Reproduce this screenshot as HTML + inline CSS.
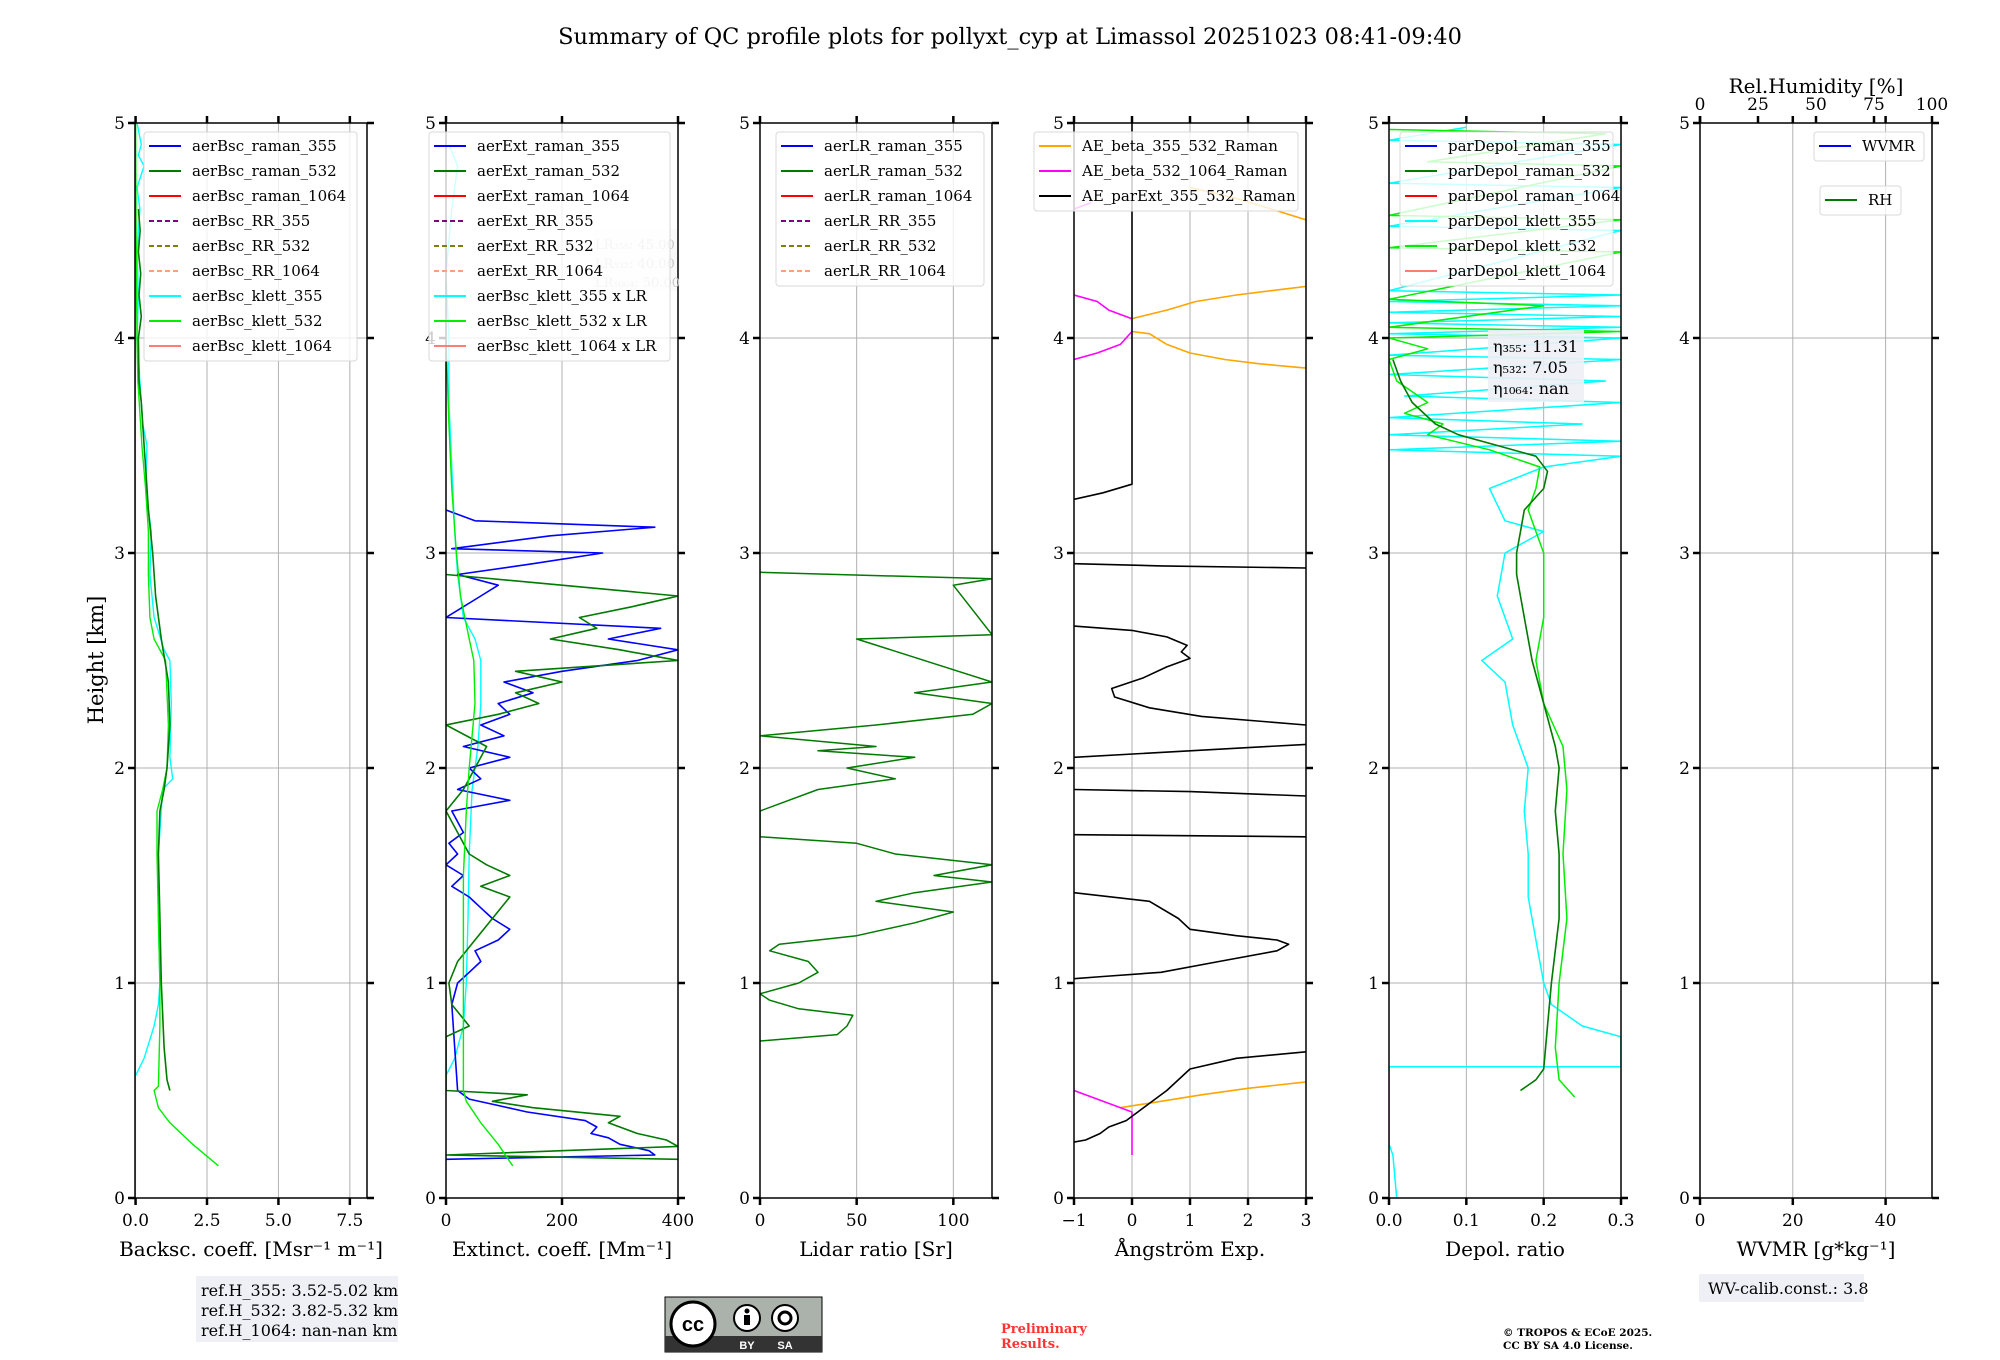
<!DOCTYPE html>
<html><head><meta charset="utf-8">
<style>
html,body{margin:0;padding:0;background:#fff;}
svg{display:block;font-family:"DejaVu Serif","Liberation Serif",serif;}
</style></head>
<body>
<svg id="fig" width="2000" height="1360" viewBox="0 0 2000 1360" xmlns="http://www.w3.org/2000/svg">
<text x="1010" y="44" text-anchor="middle" font-size="22.5">Summary of QC profile plots for pollyxt_cyp at Limassol 20251023 08:41-09:40</text>
<text transform="translate(103,660) rotate(-90)" text-anchor="middle" font-size="21">Height [km]</text>
<g id="panels"></g>
<rect x="196" y="1276" width="202" height="66" fill="#eef0f5"/>
<text x="201" y="1296" font-size="16">ref.H_355: 3.52-5.02 km</text>
<text x="201" y="1316" font-size="16">ref.H_532: 3.82-5.32 km</text>
<text x="201" y="1336" font-size="16">ref.H_1064: nan-nan km</text>
<g>
<rect x="665" y="1297" width="157" height="55" fill="#aab2ab" stroke="#000" stroke-width="1"/>
<rect x="665" y="1336" width="157" height="16" fill="#333"/>
<circle cx="693" cy="1324" r="22" fill="#fff" stroke="#000" stroke-width="3"/>
<text x="693" y="1331" text-anchor="middle" font-size="20" font-weight="bold" font-family="Liberation Sans,sans-serif">cc</text>
<circle cx="747" cy="1318" r="13" fill="#fff" stroke="#000" stroke-width="2"/>
<circle cx="747" cy="1311" r="2.5" fill="#000"/><rect x="744" y="1315" width="6" height="10" fill="#000"/>
<circle cx="785" cy="1318" r="13" fill="#fff" stroke="#000" stroke-width="2"/>
<circle cx="785" cy="1318" r="6" fill="none" stroke="#000" stroke-width="3"/>
<text x="747" y="1349" text-anchor="middle" font-size="11" fill="#fff" font-weight="bold" font-family="Liberation Sans,sans-serif">BY</text>
<text x="785" y="1349" text-anchor="middle" font-size="11" fill="#fff" font-weight="bold" font-family="Liberation Sans,sans-serif">SA</text>
</g>
<text x="1001" y="1333" font-size="13" font-weight="bold" fill="#ff3333">Preliminary</text>
<text x="1001" y="1348" font-size="13" font-weight="bold" fill="#ff3333">Results.</text>
<text x="1503" y="1336" font-size="10.5" font-weight="bold">© TROPOS &amp; ECoE 2025.</text>
<text x="1503" y="1349" font-size="10.5" font-weight="bold">CC BY SA 4.0 License.</text>
<rect x="1699" y="1274" width="165" height="28" fill="#eef0f5"/>
<text x="1708" y="1294" font-size="16">WV-calib.const.: 3.8</text>
</svg>
<script>
const bscRaman532 = [[0.5,1.2],[0.55,1.1],[0.7,1.0],[1.0,0.9],[1.3,0.85],[1.6,0.8],[1.8,0.85],[1.9,1.0],[2.0,1.1],[2.2,1.2],[2.4,1.15],[2.6,0.9],[2.8,0.7],[3.0,0.6],[3.2,0.45],[3.4,0.35],[3.5,0.3],[3.6,0.25],[3.7,0.2],[3.8,0.12],[4.0,0.1],[4.1,0.2],[4.2,0.12],[4.3,0.18],[4.4,0.1],[4.5,0.16],[4.6,0.1]];
const bscKlett532 = [[0.15,2.9],[0.25,2.0],[0.35,1.2],[0.42,0.8],[0.5,0.65],[0.52,0.8],[0.8,0.85],[1.0,0.85],[1.3,0.8],[1.6,0.75],[1.8,0.75],[1.9,0.95],[2.0,1.1],[2.2,1.15],[2.5,1.05],[2.6,0.65],[2.7,0.5],[2.9,0.45],[3.1,0.45],[3.3,0.35],[3.5,0.22],[3.8,0.08],[4.0,0.05],[4.5,0.02],[5.0,0.0]];
const bscKlett355 = [[0.57,0.0],[0.65,0.3],[0.8,0.65],[0.9,0.8],[1.0,0.85],[1.3,0.8],[1.6,0.8],[1.9,0.95],[1.95,1.3],[2.05,1.2],[2.3,1.25],[2.5,1.2],[2.55,1.0],[2.7,0.65],[2.9,0.5],[3.1,0.55],[3.3,0.35],[3.5,0.4],[3.6,0.25],[3.8,0.15],[4.0,0.05],[4.2,0.1],[4.4,0.05],[4.6,0.15],[4.7,0.05],[4.8,0.3],[4.85,0.1],[4.9,0.2],[5.0,0.05]];
const extRaman355 = [[0.18,0],[0.2,360],[0.22,350],[0.25,300],[0.28,280],[0.3,250],[0.33,260],[0.36,240],[0.4,140],[0.43,90],[0.46,40],[0.5,20],[0.9,10],[1.0,20],[1.05,40],[1.1,60],[1.15,50],[1.2,90],[1.25,110],[1.3,80],[1.35,60],[1.4,40],[1.45,10],[1.5,30],[1.55,0],[1.6,20],[1.65,5],[1.7,30],[1.8,10],[1.85,110],[1.9,20],[1.95,60],[2.0,40],[2.05,110],[2.1,30],[2.15,100],[2.2,60],[2.25,110],[2.3,90],[2.35,150],[2.4,100],[2.45,200],[2.5,330],[2.55,400],[2.6,280],[2.65,370],[2.7,0],[2.8,60],[2.85,90],[2.9,20],[2.95,150],[3.0,270],[3.02,10],[3.08,180],[3.12,360],[3.15,50],[3.2,0]];
const extRaman532 = [[0.18,400],[0.2,0],[0.24,400],[0.27,380],[0.3,330],[0.35,280],[0.38,300],[0.42,150],[0.45,80],[0.48,140],[0.5,0],[0.75,0],[0.8,40],[0.85,25],[0.9,10],[1.0,5],[1.1,20],[1.2,50],[1.3,80],[1.4,110],[1.45,60],[1.5,110],[1.55,70],[1.6,40],[1.7,20],[1.8,0],[1.9,30],[2.0,50],[2.1,70],[2.2,0],[2.25,90],[2.3,160],[2.35,120],[2.4,200],[2.45,120],[2.5,400],[2.55,300],[2.6,180],[2.65,260],[2.7,230],[2.75,320],[2.8,400],[2.85,200],[2.9,0]];
const extKlett532 = [[0.15,115],[0.25,90],[0.35,60],[0.45,35],[0.5,30],[1.0,30],[1.5,30],[1.8,35],[2.0,40],[2.3,50],[2.5,48],[2.6,40],[2.8,25],[3.0,18],[3.3,10],[3.6,5],[4.0,0]];
const extKlett355 = [[0.57,0],[0.65,15],[0.8,30],[1.0,35],[1.3,38],[1.6,40],[1.9,45],[2.1,55],[2.3,60],[2.5,60],[2.6,50],[2.7,30],[2.9,20],[3.1,15],[3.4,10],[3.7,5],[4.0,5],[4.3,0],[4.6,10],[4.8,20],[4.9,5]];
const lrRaman532 = [[0.73,0],[0.76,40],[0.8,45],[0.85,48],[0.88,20],[0.92,5],[0.95,0],[1.0,20],[1.05,30],[1.1,25],[1.15,5],[1.18,10],[1.22,50],[1.28,80],[1.33,100],[1.38,60],[1.42,80],[1.47,120],[1.5,90],[1.55,120],[1.6,70],[1.65,50],[1.68,0],[1.8,0],[1.9,30],[1.95,70],[2.0,45],[2.05,80],[2.08,30],[2.1,60],[2.15,0],[2.2,60],[2.25,110],[2.3,120],[2.35,80],[2.4,120],[2.6,50],[2.62,120],[2.85,100],[2.88,120],[2.91,0]];
const aeBeta355532A = [[4.09,0],[4.13,0.6],[4.17,1.1],[4.2,1.8],[4.22,2.4],[4.24,3.0]];
const aeBeta355532B = [[4.03,0],[4.02,0.3],[3.97,0.6],[3.93,1.0],[3.9,1.6],[3.88,2.2],[3.86,3.0]];
const aeBeta355532C = [[0.42,-0.2],[0.45,0.5],[0.48,1.2],[0.51,2.0],[0.54,3.0]];
const aeBeta355532D = [[4.7,1.0],[4.65,1.8],[4.6,2.4],[4.55,3.0]];
const aeBeta5321064A = [[4.2,-1],[4.17,-0.6],[4.13,-0.4],[4.09,0]];
const aeBeta5321064B = [[3.9,-1],[3.93,-0.6],[3.97,-0.2],[4.03,0]];
const aeBeta5321064C = [[0.5,-1],[0.45,-0.5],[0.4,0],[0.35,0],[0.2,0]];
const aeBeta5321064D = [[4.6,-1],[4.63,-0.7]];
const aeParExtA = [[5.0,0],[4.09,0],[3.32,0],[3.28,-0.5],[3.25,-1]];
const aeParExtB = [[2.95,-1],[2.94,0.5],[2.93,3]];
const aeParExtC = [[2.66,-1],[2.64,0],[2.61,0.6],[2.57,0.95],[2.54,0.85],[2.51,1.0],[2.47,0.6],[2.42,0.2],[2.37,-0.35],[2.33,-0.3],[2.28,0.3],[2.24,1.2],[2.2,3]];
const aeParExtD = [[2.05,-1],[2.08,1],[2.11,3]];
const aeParExtE = [[1.9,-1],[1.89,1],[1.87,3]];
const aeParExtF = [[1.69,-1],[1.68,3]];
const aeParExtG = [[1.42,-1],[1.38,0.3],[1.3,0.8],[1.25,1.0],[1.22,1.8],[1.2,2.5],[1.18,2.7],[1.15,2.5],[1.1,1.5],[1.05,0.5],[1.03,-0.5],[1.02,-1]];
const aeParExtH = [[0.68,3],[0.65,1.8],[0.6,1.0],[0.5,0.6],[0.44,0.3],[0.4,0.1],[0.36,-0.1],[0.33,-0.4],[0.3,-0.55],[0.27,-0.8],[0.26,-1]];
const depRaman532 = [[0.5,0.17],[0.55,0.19],[0.6,0.2],[0.8,0.205],[1.0,0.21],[1.3,0.22],[1.6,0.22],[1.8,0.215],[2.0,0.22],[2.1,0.215],[2.3,0.2],[2.5,0.185],[2.7,0.175],[2.9,0.165],[3.0,0.165],[3.1,0.17],[3.2,0.175],[3.3,0.2],[3.38,0.205],[3.45,0.19],[3.5,0.14],[3.55,0.09],[3.6,0.06],[3.7,0.03],[3.8,0.015],[3.9,0.005]];
const depKlett532 = [[0.47,0.24],[0.55,0.22],[0.7,0.215],[1.0,0.22],[1.3,0.23],[1.6,0.225],[1.9,0.23],[2.1,0.225],[2.3,0.2],[2.5,0.19],[2.7,0.2],[2.9,0.2],[3.0,0.2],[3.1,0.19],[3.2,0.18],[3.3,0.19],[3.4,0.195],[3.48,0.13],[3.55,0.05],[3.6,0.07],[3.65,0.02],[3.7,0.05],[3.8,0.01],[3.9,0.0],[3.95,0.05],[4.0,0.0],[4.03,0.3],[4.05,0.0],[4.15,0.2],[4.18,0.0],[4.4,0.3],[4.42,0.0],[4.55,0.3],[4.57,0.0],[4.8,0.3],[4.82,0.05],[4.95,0.28],[4.97,0.0]];
const depKlett355 = [[0.0,0.01],[0.2,0.005],[0.25,0.0],[0.61,0.0],[0.61,0.3],[0.75,0.3],[0.8,0.25],[0.9,0.21],[1.0,0.2],[1.2,0.19],[1.4,0.18],[1.6,0.18],[1.8,0.175],[2.0,0.18],[2.2,0.16],[2.4,0.15],[2.5,0.12],[2.6,0.16],[2.8,0.14],[3.0,0.15],[3.1,0.2],[3.15,0.15],[3.3,0.13],[3.4,0.2],[3.45,0.3],[3.48,0.0],[3.52,0.3],[3.55,0.0],[3.6,0.25],[3.63,0.0],[3.7,0.3],[3.73,0.02],[3.8,0.28],[3.83,0.0],[3.9,0.3],[3.92,0.0],[4.0,0.3],[4.02,0.0],[4.05,0.3],[4.07,0.0],[4.1,0.3],[4.12,0.0],[4.15,0.3],[4.17,0.0],[4.2,0.3],[4.22,0.0],[4.5,0.3],[4.52,0.0],[4.7,0.3],[4.72,0.0],[4.9,0.3],[4.92,0.0],[4.98,0.1]];

const yTicks = [0,1,2,3,4,5];
const panels = [
 {name:'backscatter', left:135, xmin:-0.02, xmax:8.1, ticks:[0,2.5,5,7.5], tickLabels:['0.0','2.5','5.0','7.5'], label:'Backsc. coeff. [Msr\u207B\u00B9 m\u207B\u00B9]',
  series:[[bscKlett355,'#00ffff',1.4,''],[bscKlett532,'#00ee00',1.4,''],[bscRaman532,'#007a00',1.6,'']]},
 {name:'extinction', left:446, xmin:0, xmax:400, ticks:[0,200,400], tickLabels:['0','200','400'], label:'Extinct. coeff. [Mm\u207B\u00B9]',
  series:[[extKlett355,'#00ffff',1.4,''],[extRaman355,'#0000ff',1.6,''],[extRaman532,'#007a00',1.6,''],[extKlett532,'#00ee00',1.4,'']]},
 {name:'lidar-ratio', left:760, xmin:0, xmax:120, ticks:[0,50,100], tickLabels:['0','50','100'], label:'Lidar ratio [Sr]',
  series:[[lrRaman532,'#007a00',1.5,'']]},
 {name:'angstrom', left:1074, xmin:-1, xmax:3, ticks:[-1,0,1,2,3], tickLabels:['\u22121','0','1','2','3'], label:'\u00C5ngstr\u00F6m Exp.',
  series:[[aeBeta355532A,'#ffa500',1.6,''],[aeBeta355532B,'#ffa500',1.6,''],[aeBeta355532C,'#ffa500',1.6,''],[aeBeta355532D,'#ffa500',1.6,''],
          [aeBeta5321064A,'#ff00ff',1.6,''],[aeBeta5321064B,'#ff00ff',1.6,''],[aeBeta5321064C,'#ff00ff',1.6,''],[aeBeta5321064D,'#ff00ff',1.6,''],
          [aeParExtA,'#000',1.6,''],[aeParExtB,'#000',1.6,''],[aeParExtC,'#000',1.6,''],[aeParExtD,'#000',1.6,''],[aeParExtE,'#000',1.6,''],[aeParExtF,'#000',1.6,''],[aeParExtG,'#000',1.6,''],[aeParExtH,'#000',1.6,'']]},
 {name:'depolarization', left:1389, xmin:0, xmax:0.3, ticks:[0,0.1,0.2,0.3], tickLabels:['0.0','0.1','0.2','0.3'], label:'Depol. ratio',
  series:[[depKlett355,'#00ffff',1.5,''],[depKlett532,'#00ee00',1.5,''],[depRaman532,'#007a00',1.6,'']]},
 {name:'water-vapor', left:1700, xmin:0, xmax:50, ticks:[0,20,40], tickLabels:['0','20','40'], label:'WVMR [g*kg\u207B\u00B9]', series:[]}
];
const legends = [
 {x:144,y:132,w:213,rows:[['aerBsc_raman_355','#0000ff',''],['aerBsc_raman_532','#007a00',''],['aerBsc_raman_1064','#ff0000',''],['aerBsc_RR_355','#800080','5,3'],['aerBsc_RR_532','#808000','5,3'],['aerBsc_RR_1064','#ffa07a','5,3'],['aerBsc_klett_355','#00ffff',''],['aerBsc_klett_532','#00ee00',''],['aerBsc_klett_1064','#fa8072','']]},
 {x:429,y:132,w:241,rows:[['aerExt_raman_355','#0000ff',''],['aerExt_raman_532','#007a00',''],['aerExt_raman_1064','#ff0000',''],['aerExt_RR_355','#800080','5,3'],['aerExt_RR_532','#808000','5,3'],['aerExt_RR_1064','#ffa07a','5,3'],['aerBsc_klett_355 x LR','#00ffff',''],['aerBsc_klett_532 x LR','#00ee00',''],['aerBsc_klett_1064 x LR','#fa8072','']]},
 {x:776,y:132,w:208,rows:[['aerLR_raman_355','#0000ff',''],['aerLR_raman_532','#007a00',''],['aerLR_raman_1064','#ff0000',''],['aerLR_RR_355','#800080','5,3'],['aerLR_RR_532','#808000','5,3'],['aerLR_RR_1064','#ffa07a','5,3']]},
 {x:1034,y:132,w:264,rows:[['AE_beta_355_532_Raman','#ffa500',''],['AE_beta_532_1064_Raman','#ff00ff',''],['AE_parExt_355_532_Raman','#000000','']]},
 {x:1400,y:132,w:213,rows:[['parDepol_raman_355','#0000ff',''],['parDepol_raman_532','#007a00',''],['parDepol_raman_1064','#ff0000',''],['parDepol_klett_355','#00ffff',''],['parDepol_klett_532','#00ee00',''],['parDepol_klett_1064','#fa8072','']]},
 {x:1814,y:132,w:110,rows:[['WVMR','#0000ff','']]},
 {x:1820,y:186,w:81,rows:[['RH','#007a00','']]}
];

const NS='http://www.w3.org/2000/svg';
const TOP=123, BOT=1198, W=232;
const root=document.getElementById('panels');
function mk(tag,attrs,parent){const e=document.createElementNS(NS,tag);for(const k in attrs)e.setAttribute(k,attrs[k]);(parent||root).appendChild(e);return e;}
function yScale(h){return BOT-(h-0)/(5-0)*(BOT-TOP);}
const defs=mk('defs',{});

panels.forEach(function(p,pi){
  const xs=function(v){return p.left+(v-p.xmin)/(p.xmax-p.xmin)*W;};
  const g=mk('g',{});
  
  
  const cp=mk('clipPath',{id:'clip'+pi},defs);
  mk('rect',{x:p.left,y:TOP,width:W,height:BOT-TOP},cp);
  p.ticks.forEach(function(t){const x=xs(t);const l=mk('line',{x1:x,x2:x,y1:TOP,y2:BOT,stroke:'#b0b0b0','stroke-width':1},g);
    
    });
  yTicks.forEach(function(t){const y=yScale(t);const l=mk('line',{x1:p.left,x2:p.left+W,y1:y,y2:y,stroke:'#b0b0b0','stroke-width':1},g);
    
    });
  const sg=mk('g',{'clip-path':'url(#clip'+pi+')'},g);
  p.series.forEach(function(s){
    const d=s[0].map(function(pt,i){return (i?'L':'M')+xs(pt[1]).toFixed(1)+','+yScale(pt[0]).toFixed(1);}).join('');
    const path=mk('path',{d:d,fill:'none',stroke:s[1],'stroke-width':s[2],'stroke-linejoin':'round'},sg);
    
    
  });
  mk('rect',{x:p.left,y:TOP,width:W,height:BOT-TOP,fill:'none',stroke:'#000','stroke-width':1.5},g);
  p.ticks.forEach(function(t,i){const x=xs(t);
    mk('line',{x1:x,x2:x,y1:BOT,y2:BOT+7,stroke:'#000','stroke-width':2.5},g);
    mk('line',{x1:x,x2:x,y1:TOP,y2:TOP-7,stroke:'#000','stroke-width':2.5},g);
    const tl=mk('text',{x:x,y:BOT+28,'text-anchor':'middle','font-size':17},g);
    tl.textContent=p.tickLabels[i];
    
    
  });
  yTicks.forEach(function(t){const y=yScale(t);
    mk('line',{x1:p.left,x2:p.left-7,y1:y,y2:y,stroke:'#000','stroke-width':2.5},g);
    mk('line',{x1:p.left+W,x2:p.left+W+7,y1:y,y2:y,stroke:'#000','stroke-width':2.5},g);
    const tl=mk('text',{x:p.left-10,y:y+6,'text-anchor':'end','font-size':17},g);
    tl.textContent=String(t);
    
    
  });
  const al=mk('text',{x:p.left+W/2,y:1256,'text-anchor':'middle','font-size':20},g);
  al.textContent=p.label;
  
  
});

const rhTicks=[0,25,50,75,100];
rhTicks.forEach(function(t){const x=1700+t/100*W;
  mk('line',{x1:x,x2:x,y1:TOP,y2:TOP-7,stroke:'#000','stroke-width':2.5});
  const tl=mk('text',{x:x,y:110,'text-anchor':'middle','font-size':17});
  tl.textContent=String(t);
  
  
});
const rht=mk('text',{x:1816,y:93,'text-anchor':'middle','font-size':20});
rht.textContent='Rel.Humidity [%]';



const lrBox=mk('rect',{x:593,y:229,width:84,height:62,fill:'#f5f5f5',opacity:0.6});


[['LR\u2083\u2085\u2085: 45.00',249],['LR\u2085\u2083\u2082: 40.00',268],['LR\u2081\u2080\u2086\u2084: 50.00',287]].forEach(function(r){
  const t=mk('text',{x:595,y:r[1],'font-size':13,fill:'#c8c8c8'});t.textContent=r[0];
  
  
});

legends.forEach(function(L){
  const g=mk('g',{});
  
  
  const h=L.rows.length*25+4;
  mk('rect',{x:L.x,y:L.y,width:L.w,height:h,rx:3,fill:'#fff','fill-opacity':0.8,stroke:'#d9d9d9','stroke-width':1},g);
  L.rows.forEach(function(r,i){const y=L.y+14+i*25;
    mk('line',{x1:L.x+5,x2:L.x+37,y1:y,y2:y,stroke:r[1],'stroke-width':2,'stroke-dasharray':r[2]||'none'},g);
    const t=mk('text',{x:L.x+48,y:y+5,'font-size':15},g);t.textContent=r[0];
    
    
  });
});

const eb=mk('rect',{x:1488,y:330,width:96,height:72,fill:'#eef0f5',opacity:0.9});


[['\u03B7\u2083\u2085\u2085: 11.31',352],['\u03B7\u2085\u2083\u2082: 7.05',373],['\u03B7\u2081\u2080\u2086\u2084: nan',394]].forEach(function(r){
  const t=mk('text',{x:1493,y:r[1],'font-size':16});t.textContent=r[0];
  
  
});
</script>
</body></html>
